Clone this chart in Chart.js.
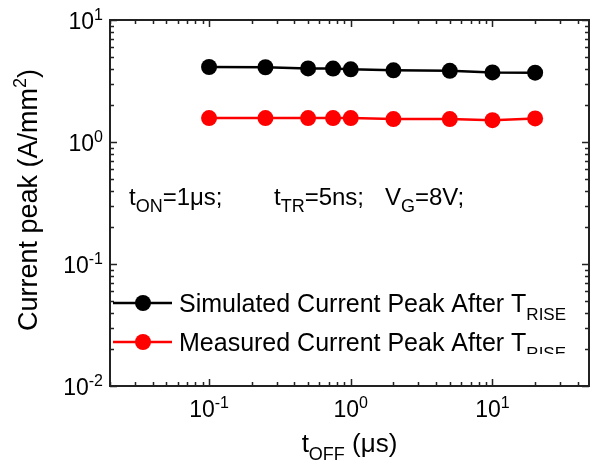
<!DOCTYPE html>
<html>
<head>
<meta charset="utf-8">
<script src="https://cdn.jsdelivr.net/npm/chart.js@4/dist/chart.umd.min.js"></script>
<style>
  html, body { margin: 0; padding: 0; background: #fff; }
  #wrap { width: 597px; height: 464px; }
</style>
</head>
<body>
<div id="wrap"><canvas id="c" width="597" height="464"></canvas></div>
<script>
// t_OFF values (µs)
const tOff = [0.1, 0.25, 0.5, 0.75, 1, 2, 5, 10, 20];
// current peak (A/mm²)
const simulated = [4.12, 4.10, 4.01, 4.00, 3.94, 3.87, 3.83, 3.72, 3.70];
const measured = [1.57, 1.57, 1.57, 1.57, 1.57, 1.54, 1.54, 1.51, 1.56];

const xTickValues = [0.1, 1, 10];
const xTickExp = ['-1', '0', '1'];
const yTickValues = [0.01, 0.1, 1, 10];
const yTickExp = ['-2', '-1', '0', '1'];

const seriesNames = ['Simulated Current Peak After T', 'Measured Current Peak After T'];
const seriesColors = ['#000000', '#ff0000'];

const FONT = '"Liberation Sans", Arial, sans-serif';
const AXIS = '#222';

// draws text pieces, some raised or lowered
function drawRich(ctx, parts, x, y, size, align, ratio = 0.68) {
  const segs = parts.map(p => {
    const kind = p[1] || 'n';
    const s = kind === 'n' ? size : Math.round(size * ratio);
    const dy = kind === 'sub' ? size * 0.3 : kind === 'sup' ? -size * 0.4 : 0;
    ctx.font = `${s}px ${FONT}`;
    return { t: p[0], s, dy, w: ctx.measureText(p[0]).width };
  });
  const total = segs.reduce((a, s) => a + s.w, 0);
  let cx = align === 'center' ? x - total / 2 : align === 'right' ? x - total : x;
  ctx.textAlign = 'left';
  ctx.textBaseline = 'alphabetic';
  for (const s of segs) {
    ctx.font = `${s.s}px ${FONT}`;
    ctx.fillText(s.t, cx, y + s.dy);
    cx += s.w;
  }
  return total;
}

function logTicks(min, max) {
  const out = [];
  for (let d = Math.floor(Math.log10(min)); d <= Math.ceil(Math.log10(max)); d++) {
    for (let m = 1; m <= 9; m++) {
      const v = m * Math.pow(10, d);
      if (v >= min * 0.999 && v <= max * 1.001) out.push({ v, major: m === 1 });
    }
  }
  return out;
}

const decor = {
  id: 'decor',
  afterDatasetsDraw(chart) {
    const { ctx, chartArea: a, scales } = chart;
    const xs = scales.x, ys = scales.y;
    ctx.save();
    ctx.fillStyle = '#000';
    ctx.strokeStyle = AXIS;

    // frame
    ctx.lineWidth = 2;
    ctx.strokeRect(a.left, a.top, a.right - a.left, a.bottom - a.top);

    // inward ticks on all sides
    ctx.lineWidth = 1.5;
    ctx.beginPath();
    for (const t of logTicks(xs.min, xs.max)) {
      const px = Math.round(xs.getPixelForValue(t.v)) + 0.5;
      const len = t.major ? 7 : 4;
      ctx.moveTo(px, a.bottom); ctx.lineTo(px, a.bottom - len);
      ctx.moveTo(px, a.top); ctx.lineTo(px, a.top + len);
    }
    for (const t of logTicks(ys.min, ys.max)) {
      const py = Math.round(ys.getPixelForValue(t.v)) + 0.5;
      const len = t.major ? 7 : 4;
      ctx.moveTo(a.left, py); ctx.lineTo(a.left + len, py);
      ctx.moveTo(a.right, py); ctx.lineTo(a.right - len, py);
    }
    ctx.stroke();

    // tick labels
    xTickValues.forEach((v, i) => {
      drawRich(ctx, [['10'], [xTickExp[i], 'sup']], xs.getPixelForValue(v), a.bottom + 31, 23, 'center');
    });
    yTickValues.forEach((v, i) => {
      drawRich(ctx, [['10'], [yTickExp[i], 'sup']], a.left - 7, ys.getPixelForValue(v) + 9, 23, 'right');
    });

    // axis titles
    drawRich(ctx, [['t'], ['OFF', 'sub'], [' (\u03bcs)']], (a.left + a.right) / 2, 452, 26, 'center');
    ctx.save();
    ctx.translate(37, 200);
    ctx.rotate(-Math.PI / 2);
    drawRich(ctx, [['Current peak (A/mm'], ['2', 'sup'], [')']], 0, 0, 27, 'center');
    ctx.restore();

    // conditions
    drawRich(ctx, [['t'], ['ON', 'sub'], ['=1\u03bcs;']], 129, 205, 24, 'left', 0.74);
    drawRich(ctx, [['t'], ['TR', 'sub'], ['=5ns;']], 274, 205, 24, 'left', 0.74);
    drawRich(ctx, [['V'], ['G', 'sub'], ['=8V;']], 385, 205, 24, 'left', 0.74);

    // legend
    const rows = [303, 342];
    ctx.save();
    ctx.beginPath();
    ctx.rect(a.left, a.top, a.right - a.left, 354 - a.top);
    ctx.clip();
    rows.forEach((ry, i) => {
      ctx.strokeStyle = seriesColors[i];
      ctx.fillStyle = seriesColors[i];
      ctx.lineWidth = 2.5;
      ctx.beginPath();
      ctx.moveTo(113, ry); ctx.lineTo(172, ry);
      ctx.stroke();
      ctx.beginPath();
      ctx.arc(143, ry, 8, 0, Math.PI * 2);
      ctx.fill();
      ctx.fillStyle = '#000';
      drawRich(ctx, [[seriesNames[i]], ['RISE', 'sub']], 179, ry + 9, 25, 'left');
    });
    ctx.restore();

    ctx.restore();
  }
};

const toPoints = ys => tOff.map((x, i) => ({ x, y: ys[i] }));

new Chart(document.getElementById('c'), {
  type: 'line',
  data: {
    datasets: [
      {
        label: seriesNames[0],
        data: toPoints(simulated),
        borderColor: seriesColors[0],
        backgroundColor: seriesColors[0],
        borderWidth: 2.5,
        pointRadius: 8,
        pointBorderWidth: 0,
        tension: 0,
      },
      {
        label: seriesNames[1],
        data: toPoints(measured),
        borderColor: seriesColors[1],
        backgroundColor: seriesColors[1],
        borderWidth: 2.5,
        pointRadius: 8,
        pointBorderWidth: 0,
        tension: 0,
      },
    ],
  },
  options: {
    responsive: false,
    animation: false,
    layout: { padding: { left: 110, top: 20, right: 7, bottom: 78 } },
    plugins: { legend: { display: false }, tooltip: { enabled: false } },
    scales: {
      x: { type: 'logarithmic', min: 0.02, max: 48, display: false },
      y: { type: 'logarithmic', min: 0.01, max: 10, display: false },
    },
  },
  plugins: [decor],
});
</script>
</body>
</html>
